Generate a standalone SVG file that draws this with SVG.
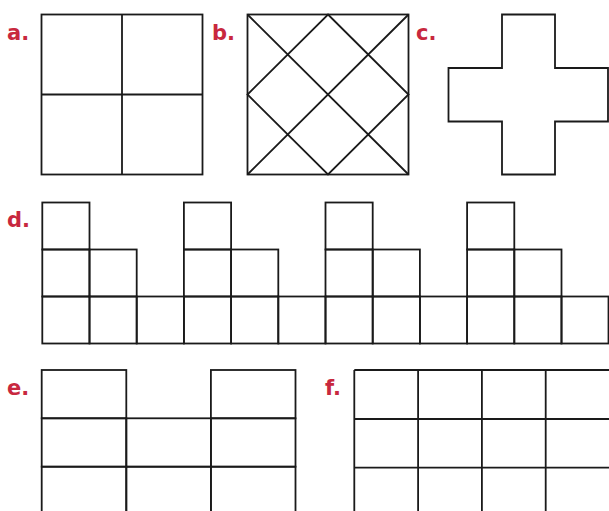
<svg xmlns="http://www.w3.org/2000/svg" width="609" height="511" viewBox="0 0 609 511">
<style>
.ln{fill:none;stroke:#1a1a1a;stroke-width:1.8;stroke-linejoin:miter}
.lb{font-family:"DejaVu Sans",sans-serif;font-weight:bold;font-size:21px;fill:#c8283e}
</style>
<rect width="609" height="511" fill="#fff"/>
<g id="panel-a">
<text class="lb" x="7" y="40">a.</text>
<rect class="ln" x="41.5" y="14.5" width="161" height="160"/>
<path class="ln" d="M122 14.5V174.5M41.5 94.5H202.5"/>
</g>
<g id="panel-b">
<text class="lb" x="212" y="40">b.</text>
<rect class="ln" x="247.5" y="14.5" width="161" height="160"/>
<path class="ln" d="M247.5 14.5L408.5 174.5M408.5 14.5L247.5 174.5M328 14.5L408.5 94.5L328 174.5L247.5 94.5Z"/>
</g>
<g id="panel-c">
<text class="lb" x="416" y="40">c.</text>
<polygon class="ln" points="502,14.5 555,14.5 555,68 608,68 608,121.5 555,121.5 555,174.5 502,174.5 502,121.5 448.5,121.5 448.5,68 502,68"/>
</g>
<g id="panel-d">
<text class="lb" x="7" y="227">d.</text>
<g class="ln">
<rect x="42.3" y="202.5" width="47.2" height="47"/><rect x="42.3" y="249.5" width="47.2" height="47"/><rect x="42.3" y="296.5" width="47.2" height="47"/>
<rect x="89.5" y="249.5" width="47.2" height="47"/><rect x="89.5" y="296.5" width="47.2" height="47"/>
<rect x="136.7" y="296.5" width="47.2" height="47"/>
<rect x="183.9" y="202.5" width="47.2" height="47"/><rect x="183.9" y="249.5" width="47.2" height="47"/><rect x="183.9" y="296.5" width="47.2" height="47"/>
<rect x="231.1" y="249.5" width="47.2" height="47"/><rect x="231.1" y="296.5" width="47.2" height="47"/>
<rect x="278.3" y="296.5" width="47.2" height="47"/>
<rect x="325.5" y="202.5" width="47.2" height="47"/><rect x="325.5" y="249.5" width="47.2" height="47"/><rect x="325.5" y="296.5" width="47.2" height="47"/>
<rect x="372.7" y="249.5" width="47.2" height="47"/><rect x="372.7" y="296.5" width="47.2" height="47"/>
<rect x="419.9" y="296.5" width="47.2" height="47"/>
<rect x="467.1" y="202.5" width="47.2" height="47"/><rect x="467.1" y="249.5" width="47.2" height="47"/><rect x="467.1" y="296.5" width="47.2" height="47"/>
<rect x="514.3" y="249.5" width="47.2" height="47"/><rect x="514.3" y="296.5" width="47.2" height="47"/>
<rect x="561.5" y="296.5" width="47" height="47"/>
</g>
</g>
<g id="panel-e">
<text class="lb" x="7" y="395">e.</text>
<g class="ln">
<rect x="41.7" y="370" width="84.6" height="48.3"/><rect x="210.9" y="370" width="84.6" height="48.3"/>
<rect x="41.7" y="418.3" width="84.6" height="48.4"/><rect x="126.3" y="418.3" width="84.6" height="48.4"/><rect x="210.9" y="418.3" width="84.6" height="48.4"/>
<rect x="41.7" y="466.7" width="84.6" height="48.4"/><rect x="126.3" y="466.7" width="84.6" height="48.4"/><rect x="210.9" y="466.7" width="84.6" height="48.4"/>
</g>
</g>
<g id="panel-f">
<text class="lb" x="325" y="395">f.</text>
<g class="ln">
<path d="M354.3 370H612M354.3 419H612M354.3 467.7H612M354.3 370V515M418.1 370V515M481.9 370V515M545.7 370V515"/>
</g>
</g>
</svg>
